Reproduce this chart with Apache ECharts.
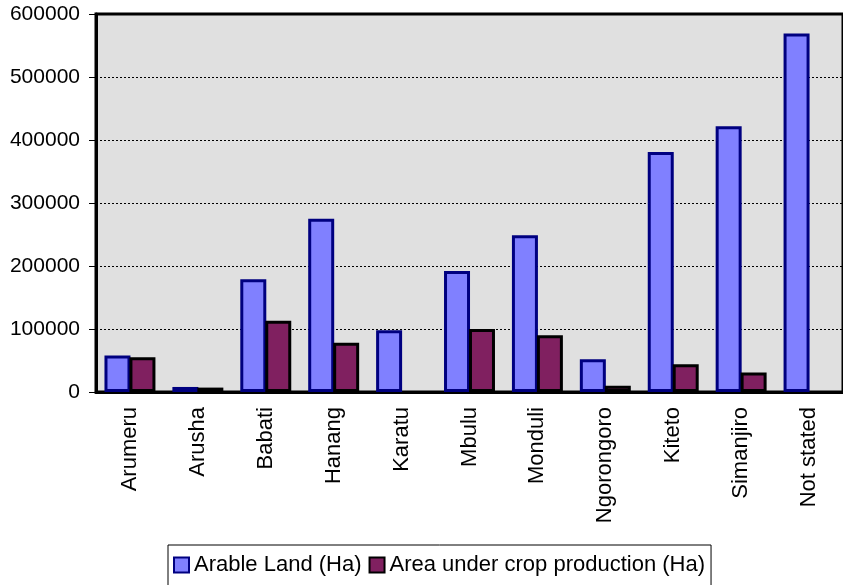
<!DOCTYPE html>
<html>
<head>
<meta charset="utf-8">
<script src="https://cdn.jsdelivr.net/npm/echarts@6/dist/echarts.min.js"></script>
<style>
  html, body { margin: 0; padding: 0; background: #fff; }
  #chart { width: 843px; height: 585px; }
</style>
</head>
<body>
<div id="chart"></div>
<script>
// districts and values (Ha); null = no bar shown
var districts = ['Arumeru', 'Arusha', 'Babati', 'Hanang', 'Karatu', 'Mbulu', 'Monduli', 'Ngorongoro', 'Kiteto', 'Simanjiro', 'Not stated'];
var arableLand = [58000, 8000, 179000, 275000, 98000, 192000, 249000, 52000, 381000, 422000, 569000];
var cropArea = [55000, 7000, 113000, 78000, null, 100000, 90000, 10000, 44000, 31000, null];
var yTicks = [0, 100000, 200000, 300000, 400000, 500000, 600000];

var font = "'Liberation Sans', Arial, sans-serif";

var option = {
  animation: false,
  textStyle: { fontFamily: font },
  grid: {
    left: 96,
    top: 14,
    width: 752,
    bottom: 193,
    show: true,
    backgroundColor: '#e0e0e0',
    borderColor: '#000',
    borderWidth: 3
  },
  legend: {
    left: 168,
    top: 545,
    padding: [9, 6, 10, 5],
    borderColor: '#000',
    borderWidth: 1,
    itemWidth: 15,
    itemHeight: 15,
    itemGap: 7,
    icon: 'rect',
    itemStyle: { borderWidth: 2 },
    textStyle: { fontSize: 22, color: '#000', fontFamily: font },
    data: ['Arable Land (Ha)', 'Area under crop production (Ha)']
  },
  xAxis: {
    type: 'category',
    data: districts,
    axisLine: { lineStyle: { color: '#000', width: 3 } },
    axisTick: { show: false },
    axisLabel: {
      rotate: 90,
      margin: 15,
      fontSize: 22,
      color: '#000',
      fontFamily: font,
      interval: 0
    }
  },
  yAxis: {
    type: 'value',
    min: yTicks[0],
    max: yTicks[yTicks.length - 1],
    interval: 100000,
    axisLine: { show: true, lineStyle: { color: '#000', width: 3 } },
    axisTick: { show: true, length: 7, lineStyle: { color: '#000', width: 1 } },
    axisLabel: {
      margin: 16,
      fontSize: 21,
      color: '#000',
      fontFamily: font,
      formatter: function (v) { return String(v); }
    },
    splitLine: { lineStyle: { color: '#000', type: [2, 2], width: 1 } }
  },
  series: [
    {
      name: 'Arable Land (Ha)',
      type: 'bar',
      data: arableLand,
      barWidth: 26,
      barGap: '-4%',
      itemStyle: { color: '#8080ff', borderColor: '#000080', borderWidth: 3 }
    },
    {
      name: 'Area under crop production (Ha)',
      type: 'bar',
      data: cropArea,
      barWidth: 26,
      itemStyle: { color: '#802060', borderColor: '#000', borderWidth: 3 }
    }
  ]
};

var myChart = echarts.init(document.getElementById('chart'));
myChart.setOption(option);
</script>
</body>
</html>
